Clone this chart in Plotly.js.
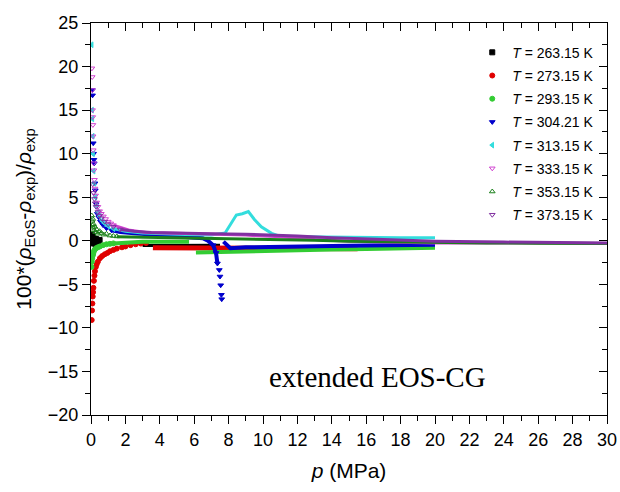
<!DOCTYPE html>
<html>
<head>
<meta charset="utf-8">
<script src="https://cdn.plot.ly/plotly-3.0.1.min.js"></script>
<style>html,body{margin:0;padding:0;background:#fff;}</style>
</head>
<body>
<div id="chart" style="width:620px;height:492px;"></div>
<script>
// ---- data (p in MPa, deviation in %) ----
const labels = ["<i>T</i> = 263.15 K","<i>T</i> = 273.15 K","<i>T</i> = 293.15 K","<i>T</i> = 304.21 K",
                "<i>T</i> = 313.15 K","<i>T</i> = 333.15 K","<i>T</i> = 353.15 K","<i>T</i> = 373.15 K"];

// 263.15 K
const p263 = [0.04,0.06,0.08,0.1,0.12,0.15,0.2,0.25,0.3,0.35,0.4,0.5];
const d263 = [0.7,-0.3,0.5,0.2,-0.2,0.3,0.1,-0.35,0.2,0.0,-0.1,0.1];
const p263b = [3.0,4.0,5.0,6.0,7.0,7.5];
const d263b = [-0.55,-0.55,-0.55,-0.52,-0.5,-0.5];

// 273.15 K
const p273 = [0.04,0.06,0.08,0.1,0.12,0.14,0.17,0.2,0.23,0.28,0.33,0.4,0.52,0.65,0.8,0.95,1.1,1.3,1.5,1.8,2.0,2.3,2.6,2.9,3.2];
const d273 = [-9.1,-8.0,-7.2,-6.4,-5.9,-5.4,-4.6,-4.0,-3.5,-3.0,-2.7,-2.4,-2.0,-1.75,-1.55,-1.4,-1.2,-1.05,-0.9,-0.75,-0.65,-0.5,-0.4,-0.32,-0.25];
const p273b = [3.6,5.0,7.0,9.0,11.0,13.0,15.5];
const d273b = [-0.8,-0.82,-0.85,-0.85,-0.88,-0.9,-0.92];

// 293.15 K
const p293 = [0.03,0.05,0.07,0.1,0.13,0.17,0.22,0.3,0.4,0.52,0.7,0.9,1.1,1.3];
const d293 = [-3.0,-2.4,-2.0,-1.7,-1.5,-1.2,-1.0,-0.85,-0.75,-0.65,-0.5,-0.4,-0.35,-0.3];
const p293b = [1.3,1.6,2.0,2.5,3.0,3.5,4.0,4.5,5.0,5.7,null,6.1,8.0,10.0,12.0,14.0,16.0,18.0,20.0];
const d293b = [-0.3,-0.25,-0.2,-0.15,-0.12,-0.1,-0.1,-0.1,-0.1,-0.1,null,-1.35,-1.25,-1.15,-1.05,-1.0,-0.95,-0.88,-0.8];

// 304.21 K
const p304 = [0.08,0.09,0.13,0.15,0.17,0.19,0.23,0.25,0.3,0.37,0.45,0.55,0.7,0.9,1.2,
              7.1,7.27,7.35,7.46,7.5,7.54,7.58,7.6];
const d304 = [17.3,16.7,11.2,10.0,9.3,8.9,6.6,5.8,4.2,3.1,2.7,2.2,1.8,1.45,1.2,
              -0.5,-1.4,-2.6,-3.35,-4.1,-5.1,-6.2,-6.7];
const p304b = [1.2,1.7,2.5,3.5,4.5,5.5,6.5,6.8,7.1,7.27,7.35,null,7.7,7.9,8.1,9.0,10.0,12.0,14.0,16.0,18.0,20.0];
const d304b = [1.2,1.0,0.85,0.7,0.55,0.45,0.3,0.0,-0.5,-1.4,-2.6,null,-0.1,-0.5,-0.85,-0.75,-0.7,-0.65,-0.6,-0.55,-0.5,-0.45];

// 313.15 K
const p313 = [0.04,0.06,0.08,0.1,0.12,0.15,0.2,0.25,0.3,0.4,0.5,0.65,0.8,1.0,1.3];
const d313 = [22.5,15.0,14.0,12.0,10.0,8.0,6.6,5.0,4.0,3.3,2.8,2.3,2.0,1.7,1.4];
const p313b = [1.3,2.0,3.0,4.0,5.0,6.0,7.0,7.8,8.1,8.45,8.8,9.15,9.5,9.9,10.5,11.0,12.0,14.0,16.0,18.0,20.0];
const d313b = [1.4,1.1,0.9,0.8,0.75,0.7,0.65,0.9,1.8,2.96,3.1,3.35,2.45,1.6,0.86,0.5,0.45,0.4,0.38,0.36,0.35];

// 333.15 K
const p333 = [0.05,0.07,0.08,0.09,0.1,0.11,0.12,0.13,0.15,0.17,0.2,0.23,0.27,0.33,0.4,0.5,0.6,0.72,0.85,1.0,1.15,1.3];
const d333 = [19.8,18.8,17.3,15.0,14.2,13.3,12.0,10.4,8.9,8.1,7.0,6.0,5.2,4.4,3.9,3.4,3.1,2.8,2.5,2.2,2.0,1.8];
const p333b = [1.3,2.27,3.2,5.2,7.0,9.0,11.0,13.0,15.0,17.0,20.0,25.0,30.0];
const d333b = [1.8,1.2,0.95,0.85,0.78,0.65,0.45,0.15,-0.05,-0.15,-0.25,-0.25,-0.3];

// 353.15 K
const p353 = [0.04,0.06,0.08,0.1,0.12,0.15,0.18,0.22,0.27,0.33,0.4,0.5,0.6,0.75,0.9,1.1,1.3,1.5];
const d353 = [2.9,2.3,1.8,2.5,1.5,1.9,1.2,1.6,1.0,1.3,0.8,1.1,0.9,0.7,0.8,0.6,0.55,0.5];
const p353b = [1.5,3.0,5.0,7.0,9.0,11.0,13.0,15.0,17.0,20.0,23.0,26.0,30.0];
const d353b = [0.45,0.4,0.35,0.3,0.25,0.15,0.05,-0.05,-0.12,-0.2,-0.25,-0.28,-0.3];

// 373.15 K
const p373 = [0.1,0.15,0.2,0.25,0.3,0.4,0.5,0.6,0.8,1.0,1.3,1.7];
const d373 = [6.5,5.5,4.8,4.3,3.9,3.3,2.9,2.6,2.2,1.9,1.6,1.3];
const p373b = [1.7,2.5,3.5,5.0,7.0,9.0,10.0,12.0,14.0,16.0,18.0,20.0,24.0,30.0];
const d373b = [1.3,1.1,0.95,0.85,0.8,0.75,0.7,0.55,0.35,0.2,0.05,-0.05,-0.15,-0.25];

// ---- styles ----
const series = [
  {lab:labels[0], p:p263, d:d263, pb:p263b, db:d263b, color:'#000000', sym:'square', w:3},
  {lab:labels[1], p:p273, d:d273, pb:p273b, db:d273b, color:'#e00000', sym:'circle', w:5},
  {lab:labels[2], p:p293, d:d293, pb:p293b, db:d293b, color:'#33cc33', sym:'circle', w:4},
  {lab:labels[3], p:p304, d:d304, pb:p304b, db:d304b, color:'#0000cc', sym:'triangle-down', w:4},
  {lab:labels[4], p:p313, d:d313, pb:p313b, db:d313b, color:'#33dddd', sym:'triangle-left', w:3},
  {lab:labels[5], p:p333, d:d333, pb:p333b, db:d333b, color:'#d040d0', sym:'triangle-down-open', w:3},
  {lab:labels[6], p:p353, d:d353, pb:p353b, db:d353b, color:'#1a801a', sym:'triangle-up-open', w:3},
  {lab:labels[7], p:p373, d:d373, pb:p373b, db:d373b, color:'#8030a0', sym:'triangle-down-open', w:3}
];

const traces = [];
series.forEach((s, i) => {
  traces.push({x:s.pb, y:s.db, type:'scatter', mode:'lines', legendgroup:'g'+i, showlegend:false,
               line:{color:s.color, width:s.w}, hoverinfo:'skip'});
  traces.push({x:s.p, y:s.d, type:'scatter', mode:'markers', name:s.lab, legendgroup:'g'+i,
               marker:{color:s.color, symbol:s.sym, size:5, line:{color:s.color, width:1}}});
});
// carrier for the mirrored (top/right) axes
traces.push({x:[], y:[], type:'scatter', mode:'markers', xaxis:'x2', yaxis:'y2', showlegend:false, hoverinfo:'skip'});

const F = 'Liberation Sans, Arial, sans-serif';
const layout = {
  width:620, height:492,
  margin:{l:91, r:13, t:23, b:77},
  paper_bgcolor:'#fff', plot_bgcolor:'#fff',
  font:{family:F, color:'#000', size:18},
  showlegend:true,
  legend:{x:0.985, y:0.965, xanchor:'right', yanchor:'top', bgcolor:'rgba(0,0,0,0)',
          font:{family:F, size:14, color:'#000'}, traceorder:'grouped', tracegroupgap:2,
          itemwidth:30},
  xaxis:{range:[0,30], dtick:2, tick0:0, ticks:'outside', ticklen:8, tickwidth:1, tickcolor:'#000',
         minor:{dtick:1, ticks:'outside', ticklen:5, tickcolor:'#000'},
         showline:true, linecolor:'#000', linewidth:1, showgrid:false, zeroline:false,
         tickfont:{family:F, size:18},
         title:{text:'<i>p</i> (MPa)', font:{family:F, size:21}, standoff:14}},
  yaxis:{range:[-20,25], dtick:5, tick0:0, ticks:'outside', ticklen:8, tickwidth:1, tickcolor:'#000',
         minor:{dtick:2.5, ticks:'outside', ticklen:5, tickcolor:'#000'},
         showline:true, linecolor:'#000', linewidth:1, showgrid:false, zeroline:false,
         tickfont:{family:F, size:18},
         title:{text:'100*(<i>ρ</i><sub>EoS</sub>-<i>ρ</i><sub>exp</sub>)/<i>ρ</i><sub>exp</sub>', font:{family:F, size:21}, standoff:10}},
  xaxis2:{overlaying:'x', side:'top', range:[0,30], dtick:2, tick0:0, ticks:'inside', ticklen:8, tickcolor:'#000',
          minor:{dtick:1, ticks:'inside', ticklen:5, tickcolor:'#000'},
          showticklabels:false, showline:true, linecolor:'#000', linewidth:1, showgrid:false, zeroline:false},
  yaxis2:{overlaying:'y', side:'right', range:[-20,25], dtick:5, tick0:0, ticks:'inside', ticklen:8, tickcolor:'#000',
          minor:{dtick:2.5, ticks:'inside', ticklen:5, tickcolor:'#000'},
          showticklabels:false, showline:true, linecolor:'#000', linewidth:1, showgrid:false, zeroline:false},
  annotations:[{text:'extended EOS-CG', xref:'paper', yref:'paper', x:0.556, y:0.097,
                xanchor:'center', yanchor:'middle', showarrow:false,
                font:{family:'Liberation Serif, Times New Roman, serif', size:29, color:'#000'}}]
};

Plotly.newPlot('chart', traces, layout, {staticPlot:true, displayModeBar:false});
</script>
</body>
</html>
